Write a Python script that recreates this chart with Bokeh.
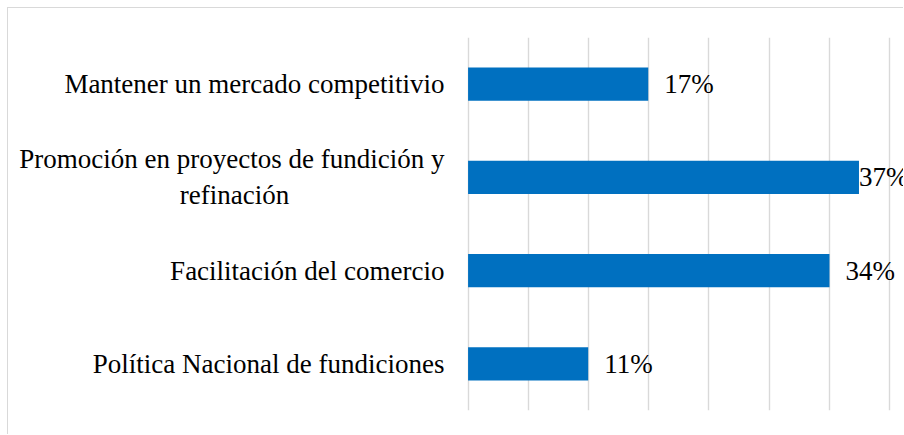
from bokeh.plotting import figure
from bokeh.models import FactorRange, Range1d, FixedTicker, ColumnDataSource
from bokeh.core.properties import value
from bokeh.embed import file_html
from bokeh.resources import INLINE

# Survey answers, listed top to bottom as they appear on the chart
categorias = [
    "Mantener un mercado competitivio",
    "Promoción en proyectos de fundición y\nrefinación",
    "Facilitación del comercio",
    "Política Nacional de fundiciones",
]
porcentajes = [17.1, 37.1, 34.3, 11.4]
etiquetas = ["17%", "37%", "34%", "11%"]

FONT = "'Liberation Serif', 'Times New Roman', serif"
FONT_SIZE = "27px"
BAR_COLOR = "#0070C0"
GRID_COLOR = "#d9d9d9"

# second line of the wrapped label is padded so it sits centred under the first
NBSP = "\u00a0"
shown = [c.replace("\nrefinación", "\nrefinación" + NBSP * 23) for c in categorias]

factors = list(reversed(shown))

p = figure(
    width=896, height=427,
    y_range=FactorRange(*factors),
    x_range=Range1d(-0.15, 41.42),
    output_backend="svg", toolbar_location=None,
    min_border_left=458, min_border_top=29,
    min_border_bottom=25, min_border_right=0,
)
p.styles = {
    "margin-left": "7px", "margin-top": "7px",
    "border-left": f"1px solid {GRID_COLOR}",
    "border-top": f"1px solid {GRID_COLOR}",
}

src = ColumnDataSource(dict(cat=shown, val=porcentajes, lab=etiquetas))
p.hbar(y="cat", right="val", left=0, height=0.355, source=src,
       fill_color=BAR_COLOR, line_color=None)

# value labels just past each bar end; the longest is pulled in so it stays on the canvas
top = max(porcentajes)
for cat, v, lab in zip(shown, porcentajes, etiquetas):
    off = 0 if v == top else 16
    p.text(x=[v], y=[cat], text=[lab], x_offset=off,
           text_font=value(FONT), text_font_size=FONT_SIZE,
           text_baseline="middle", text_align="left", text_color="black")

# axes
p.xaxis.visible = False
p.xgrid.ticker = FixedTicker(ticks=[k * 40 / 7 for k in range(8)])
p.xgrid.grid_line_color = GRID_COLOR
p.xgrid.grid_line_width = 1.4
p.ygrid.grid_line_color = None

ya = p.yaxis[0]
ya.axis_line_color = None
ya.major_tick_line_color = None
ya.minor_tick_line_color = None
ya.major_label_text_font = FONT
ya.major_label_text_font_size = FONT_SIZE
ya.major_label_text_color = "black"
ya.major_label_standoff = 16

p.outline_line_color = None
p.background_fill_color = "white"
p.border_fill_color = "white"

open("out.html", "w").write(file_html(p, INLINE))
